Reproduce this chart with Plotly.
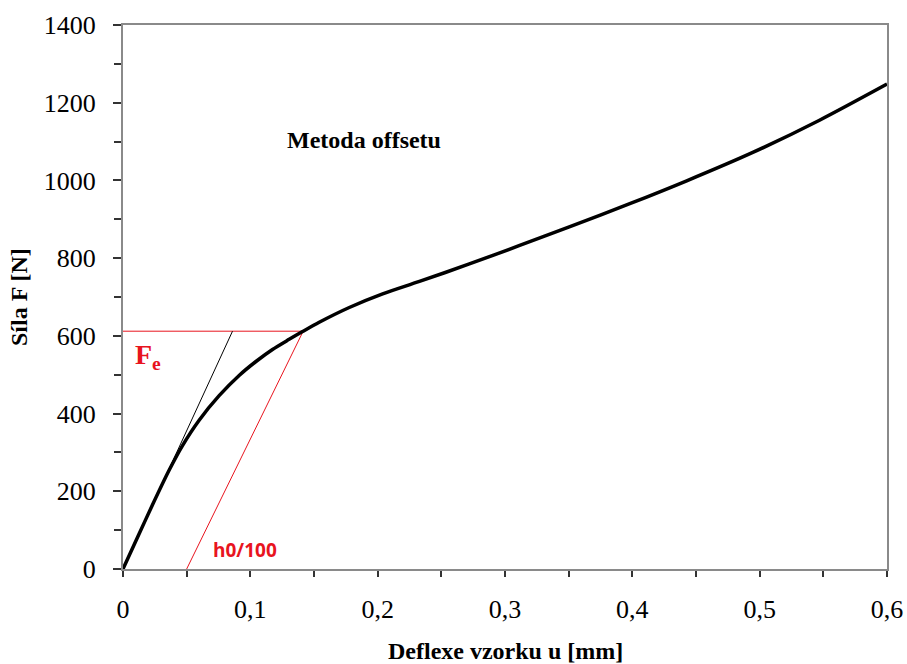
import plotly.graph_objects as go

# Measured curve: deflection u [mm] vs force F [N]
deflection = [0, 0.0126, 0.023, 0.0362, 0.0466, 0.0598, 0.0755, 0.0912, 0.1044, 0.1174,
              0.1305, 0.141, 0.1541, 0.1777, 0.2039, 0.2328, 0.272, 0.311, 0.351, 0.398,
              0.4427, 0.4946, 0.547, 0.6]
force = [0, 90, 164, 254, 317, 383, 446, 498, 534, 565,
         591, 611, 635, 673, 708, 740, 785, 832, 881, 940,
         999, 1072, 1155, 1248]

# Construction lines
fe_value = 612
tangent_x = [0, 0.086]
tangent_y = [0, fe_value]
offset_x = [0.05, 0.1415]
offset_y = [0, fe_value]
fe_line_x = [0, 0.1415]
fe_line_y = [fe_value, fe_value]

x_ticks = [0, 0.1, 0.2, 0.3, 0.4, 0.5, 0.6]
x_tick_labels = ["0", "0,1", "0,2", "0,3", "0,4", "0,5", "0,6"]
y_ticks = [0, 200, 400, 600, 800, 1000, 1200, 1400]

RED = "#e8141e"
SERIF = "Liberation Serif, Times New Roman, serif"

fig = go.Figure()
fig.add_trace(go.Scatter(x=fe_line_x, y=fe_line_y, mode="lines",
                         line=dict(color=RED, width=1), hoverinfo="skip"))
fig.add_trace(go.Scatter(x=tangent_x, y=tangent_y, mode="lines",
                         line=dict(color="black", width=1), hoverinfo="skip"))
fig.add_trace(go.Scatter(x=offset_x, y=offset_y, mode="lines",
                         line=dict(color=RED, width=1), hoverinfo="skip"))
fig.add_trace(go.Scatter(x=deflection, y=force, mode="lines",
                         line=dict(color="black", width=3.5, shape="spline", smoothing=0.8)))

fig.add_annotation(x=0.189, y=1104, text="<b>Metoda offsetu</b>", showarrow=False,
                   font=dict(family=SERIF, size=24, color="black"))
fig.add_annotation(x=0.0195, y=548, text="<b>F<sub>e</sub></b>", showarrow=False,
                   font=dict(family=SERIF, size=28, color=RED))
fig.add_annotation(x=0.0955, y=50, text="<b>h0/100</b>", showarrow=False,
                   font=dict(family="Open Sans, sans-serif", size=19, color=RED))
fig.add_annotation(xref="paper", yref="paper", x=0.5, y=0, yanchor="middle",
                   yshift=-82, text="<b>Deflexe vzorku u [mm]</b>", showarrow=False,
                   font=dict(family=SERIF, size=24, color="black"))
fig.add_annotation(xref="paper", yref="paper", x=0, y=0.5, xanchor="center",
                   xshift=-104, textangle=-90, text="<b>Síla F [N]</b>", showarrow=False,
                   font=dict(family=SERIF, size=24, color="black"))

fig.update_layout(
    width=907, height=664,
    margin=dict(l=123, r=20, t=25, b=95),
    paper_bgcolor="white", plot_bgcolor="white",
    showlegend=False,
    separators=", ",
    xaxis=dict(range=[0, 0.6], tickvals=x_ticks, ticktext=x_tick_labels,
               automargin=False,
               showgrid=False, zeroline=False,
               showline=True, linecolor="#8a8a8a", linewidth=2, mirror=True,
               ticks="outside", ticklen=6, tickwidth=1.5, tickcolor="#333",
               ticklabelstandoff=10,
               minor=dict(dtick=0.05, tick0=0, ticks="outside", ticklen=6,
                          tickwidth=1.5, tickcolor="#333"),
               tickfont=dict(family=SERIF, size=26, color="black")),
    yaxis=dict(range=[0, 1400], tickvals=y_ticks,
               automargin=False,
               showgrid=False, zeroline=False,
               showline=True, linecolor="#8a8a8a", linewidth=2, mirror=True,
               ticks="outside", ticklen=8, tickwidth=1.5, tickcolor="#333",
               ticklabelstandoff=12,
               minor=dict(dtick=100, tick0=0, ticks="outside", ticklen=7,
                          tickwidth=1.5, tickcolor="#333"),
               tickfont=dict(family=SERIF, size=26, color="black")),
)

fig.write_html("out.html")
